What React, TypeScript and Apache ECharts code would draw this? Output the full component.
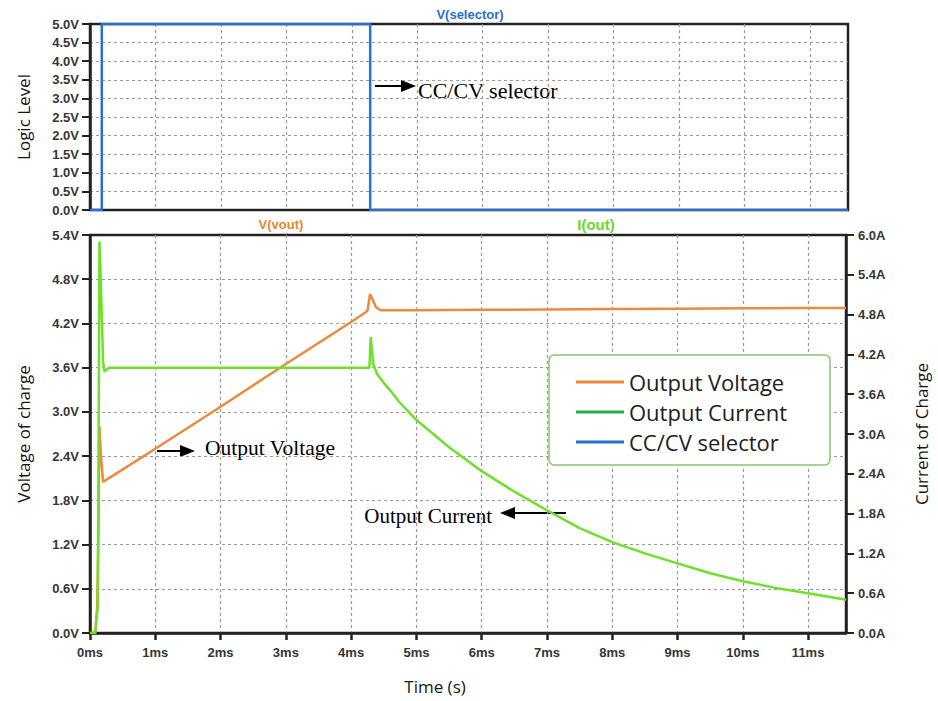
import React, { useEffect, useRef } from "react";
import * as echarts from "echarts";

// time in ms, value
const selectorData: [number, number][] = [
  [0, 0], [0.18, 0], [0.18, 5], [4.28, 5], [4.28, 0], [11.58, 0],
];
const voltageData: [number, number][] = [
  [0, 0], [0.08, 0], [0.11, 0.35], [0.13, 1.4], [0.145, 2.8], [0.16, 2.5], [0.2, 2.05],
  [1, 2.5], [2, 3.07], [3, 3.65], [4, 4.22], [4.25, 4.37], [4.29, 4.6], [4.33, 4.52],
  [4.38, 4.42], [4.45, 4.38], [5, 4.38], [6, 4.385], [7, 4.39], [8, 4.395], [9, 4.4],
  [10, 4.405], [11, 4.41], [11.58, 4.41],
];
const currentData: [number, number][] = [
  [0, 0], [0.08, 0], [0.12, 0.4], [0.145, 5.9], [0.16, 5.5], [0.2, 4.1], [0.22, 3.94],
  [0.25, 3.97], [0.3, 4.0], [4.28, 4.0], [4.3, 4.46], [4.34, 4.05], [4.4, 3.9],
  [4.5, 3.77], [4.63, 3.62], [4.73, 3.49], [5, 3.21], [5.5, 2.8], [6, 2.44],
  [6.5, 2.13], [7, 1.85], [7.5, 1.58], [8, 1.37], [8.5, 1.2], [9, 1.05], [9.5, 0.9],
  [10, 0.78], [10.5, 0.68], [11, 0.6], [11.58, 0.5],
];
const seriesNames = ["Output Voltage", "Output Current", "CC/CV selector"];
const legendColors = ["#e8873a", "#1fb04f", "#1f72c8"];

const LABEL_FONT = { fontFamily: "Liberation Sans", fontWeight: "bold" as const, fontSize: 13, color: "#353535" };
const TITLE_FONT = { fontFamily: "Open Sans", fontSize: 17, color: "#151515" };
const gridSplit = {
  show: true, showMinLine: false, showMaxLine: false,
  lineStyle: { color: "#9a9a9a", type: [3, 3] as any, width: 1.2 },
};

function arrow(x1: number, x2: number, y: number) {
  const dir = x2 > x1 ? 1 : -1;
  const headLen = 15;
  return {
    type: "group",
    children: [
      { type: "line", shape: { x1, y1: y, x2: x2 - dir * headLen, y2: y }, style: { stroke: "#000", lineWidth: 2 } },
      {
        type: "polygon",
        shape: { points: [[x2, y], [x2 - dir * headLen, y - 6], [x2 - dir * headLen, y + 6]] },
        style: { fill: "#000" },
      },
    ],
  };
}

export default function App() {
  const ref = useRef<HTMLDivElement>(null);
  useEffect(() => {
    const chart = echarts.init(ref.current!, null, { renderer: "svg" });
    chart.setOption({
      animation: false,
      backgroundColor: "#fff",
      grid: [
        { left: 90, right: 90, top: 24, height: 186, show: true, borderColor: "#222", borderWidth: 2.5 },
        { left: 90, right: 88, top: 235, height: 398, show: true, borderColor: "#222", borderWidth: 2.5 },
      ],
      xAxis: [
        {
          type: "value", gridIndex: 0, min: 0, max: 11.58, interval: 1,
          axisLine: { show: false }, axisTick: { show: false }, axisLabel: { show: false },
          splitLine: gridSplit,
        },
        {
          type: "value", gridIndex: 1, min: 0, max: 11.58, interval: 1,
          name: "Time (s)", nameLocation: "middle", nameGap: 45,
          nameTextStyle: { ...TITLE_FONT, padding: [0, 66, 0, 0] },
          axisLine: { show: true, lineStyle: { color: "#222", width: 2.5 } },
          axisTick: { show: true, length: 7, lineStyle: { color: "#222", width: 2.5 } },
          axisLabel: {
            ...LABEL_FONT, margin: 13, showMaxLabel: false,
            formatter: (v: number) => (Number.isInteger(v) ? `${v}ms` : ""),
          },
          splitLine: gridSplit,
        },
      ],
      yAxis: [
        {
          type: "value", gridIndex: 0, min: 0, max: 5, interval: 0.5,
          name: "Logic Level", nameLocation: "middle", nameGap: 58, nameRotate: 90,
          nameTextStyle: TITLE_FONT,
          axisLine: { show: true, lineStyle: { color: "#222", width: 2.5 } },
          axisTick: { show: true, length: 8, lineStyle: { color: "#222", width: 2 } },
          axisLabel: { ...LABEL_FONT, margin: 11, formatter: (v: number) => `${v.toFixed(1)}V` },
          splitLine: gridSplit,
        },
        {
          type: "value", gridIndex: 1, min: 0, max: 5.4, interval: 0.6,
          name: "Voltage of charge", nameLocation: "middle", nameGap: 58, nameRotate: 90,
          nameTextStyle: TITLE_FONT,
          axisLine: { show: true, lineStyle: { color: "#222", width: 2.5 } },
          axisTick: { show: true, length: 8, lineStyle: { color: "#222", width: 2 } },
          axisLabel: { ...LABEL_FONT, margin: 11, formatter: (v: number) => `${v.toFixed(1)}V` },
          splitLine: gridSplit,
        },
        {
          type: "value", gridIndex: 1, min: 0, max: 6, interval: 0.6, position: "right",
          name: "Current of Charge", nameLocation: "middle", nameGap: 67, nameRotate: 90,
          nameTextStyle: TITLE_FONT,
          axisLine: { show: true, lineStyle: { color: "#222", width: 2.5 } },
          axisTick: { show: true, length: 8, lineStyle: { color: "#222", width: 2 } },
          axisLabel: { ...LABEL_FONT, margin: 12, formatter: (v: number) => `${v.toFixed(1)}A` },
          splitLine: { show: false },
        },
      ],
      legend: {
        orient: "vertical", left: 549, top: 355,
        padding: [12, 43, 8, 27],
        backgroundColor: "#fff",
        borderColor: "#8cc56e", borderWidth: 1.5, borderRadius: 5,
        icon: "rect", itemWidth: 48, itemHeight: 3, itemGap: 0,
        textStyle: { fontFamily: "Open Sans", fontSize: 22, color: "#222", lineHeight: 30 },
        data: seriesNames.map((n, i) => ({ name: n, itemStyle: { color: legendColors[i] } })),
      },
      graphic: [
        { type: "text", x: 470, y: 14, style: { text: "V(selector)", fill: "#2b6cd4", font: "bold 13px Liberation Sans", align: "center", verticalAlign: "middle" } },
        { type: "text", x: 281, y: 224, style: { text: "V(vout)", fill: "#e8862e", font: "bold 13px Liberation Sans", align: "center", verticalAlign: "middle" } },
        { type: "text", x: 596, y: 224, style: { text: "I(out)", fill: "#6ad82a", font: "bold 15px Liberation Sans", align: "center", verticalAlign: "middle" } },
        arrow(375, 416, 86),
        { type: "text", x: 418, y: 90, style: { text: "CC/CV selector", fill: "#000", font: "22px Liberation Serif", verticalAlign: "middle" } },
        arrow(157, 195, 451),
        { type: "text", x: 205, y: 448, style: { text: "Output Voltage", fill: "#000", font: "21.5px Liberation Serif", verticalAlign: "middle" } },
        arrow(566, 500, 513),
        { type: "text", x: 492, y: 516, style: { text: "Output Current", fill: "#000", font: "21px Liberation Serif", align: "right", verticalAlign: "middle" } },
      ],
      series: [
        {
          name: seriesNames[2], type: "line", xAxisIndex: 0, yAxisIndex: 0, data: selectorData,
          showSymbol: false, lineStyle: { color: "#2a6fd6", width: 2.5 }, itemStyle: { color: "#2a6fd6" },
        },
        {
          name: seriesNames[0], type: "line", xAxisIndex: 1, yAxisIndex: 1, data: voltageData,
          showSymbol: false, lineStyle: { color: "#ec8a3e", width: 2.5 }, itemStyle: { color: "#ec8a3e" },
        },
        {
          name: seriesNames[1], type: "line", xAxisIndex: 1, yAxisIndex: 2, data: currentData,
          showSymbol: false, lineStyle: { color: "#6fe02a", width: 2.5 }, itemStyle: { color: "#6fe02a" },
        },
      ],
    });
    return () => chart.dispose();
  }, []);
  return <div ref={ref} style={{ position: "fixed", left: 0, top: 0, width: 938, height: 701 }} />;
}
